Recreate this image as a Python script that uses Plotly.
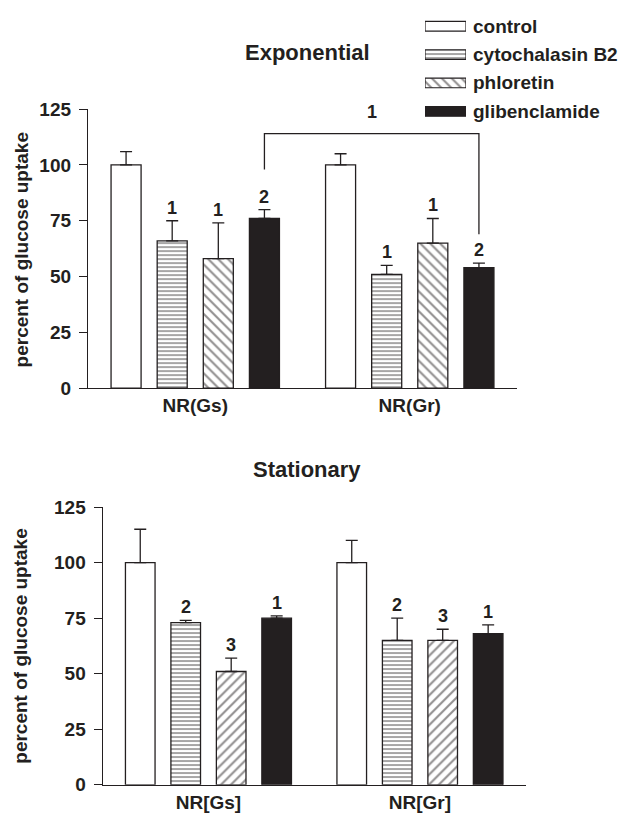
import plotly.graph_objects as go

# ---------------- data ----------------
series = ["control", "cytochalasin B2", "phloretin", "glibenclamide"]

exp_categories = ["NR(Gs)", "NR(Gr)"]
exp_control = [100, 100]
exp_cytochalasin = [66, 51]
exp_phloretin = [58, 65]
exp_glibenclamide = [76, 54]
exp_control_err = [6, 5]
exp_cytochalasin_err = [9, 4]
exp_phloretin_err = [16, 11]
exp_glibenclamide_err = [4, 2]
exp_control_sig = ["", ""]
exp_cytochalasin_sig = ["1", "1"]
exp_phloretin_sig = ["1", "1"]
exp_glibenclamide_sig = ["2", "2"]

stat_categories = ["NR[Gs]", "NR[Gr]"]
stat_control = [100, 100]
stat_cytochalasin = [73, 65]
stat_phloretin = [51, 65]
stat_glibenclamide = [75, 68]
stat_control_err = [15, 10]
stat_cytochalasin_err = [1, 10]
stat_phloretin_err = [6, 5]
stat_glibenclamide_err = [1, 4]
stat_control_sig = ["", ""]
stat_cytochalasin_sig = ["2", "2"]
stat_phloretin_sig = ["3", "3"]
stat_glibenclamide_sig = ["1", "1"]

y_ticks = [0, 25, 50, 75, 100, 125]

# bracket between glibenclamide bars (exponential panel)
bracket_label = "1"
bracket_top = 114
bracket_left_bottom = 98
bracket_right_bottom = 69

# ---------------- styling ----------------
W, H = 629, 827
INK = "#231f20"
FONT = "Liberation Sans, Arial, sans-serif"
PITCH = 0.215
BAR_W = 0.14

styles = [
    dict(color="white", pattern=dict(shape="")),
    dict(color="white", pattern=dict(shape="-", size=4, solidity=0.4, fgcolor=INK, bgcolor="white")),
    dict(color="white", pattern=dict(shape="\\", size=7, solidity=0.3, fgcolor=INK, bgcolor="white")),
    dict(color=INK, pattern=dict(shape="")),
]
stat_styles = list(styles)
stat_styles[2] = dict(color="white", pattern=dict(shape="/", size=7, solidity=0.3, fgcolor=INK, bgcolor="white"))


def bold(size):
    return dict(family=FONT, size=size, color=INK, weight="bold")


fig = go.Figure()
annotations = []


def add_panel(cats, means, errs, sigs, stl, xa, ya):
    for i, (m, e, s) in enumerate(zip(means, errs, sigs)):
        xs = [g + (i - 1.5) * PITCH for g in range(len(cats))]
        fig.add_trace(go.Bar(
            x=xs, y=m, width=BAR_W, name=series[i], showlegend=False,
            marker=dict(color=stl[i]["color"], pattern=stl[i]["pattern"],
                        line=dict(color=INK, width=1.3)),
            error_y=dict(type="data", symmetric=False, array=e, arrayminus=[0] * len(e),
                         color=INK, thickness=1.3, width=6),
            xaxis=xa, yaxis=ya,
        ))
        for x, mv, ev, sv in zip(xs, m, e, s):
            if sv:
                annotations.append(dict(x=x, y=mv + ev, xref=xa, yref=ya, text=sv,
                                        showarrow=False, yanchor="bottom", yshift=1,
                                        font=bold(18)))


add_panel(exp_categories,
          [exp_control, exp_cytochalasin, exp_phloretin, exp_glibenclamide],
          [exp_control_err, exp_cytochalasin_err, exp_phloretin_err, exp_glibenclamide_err],
          [exp_control_sig, exp_cytochalasin_sig, exp_phloretin_sig, exp_glibenclamide_sig],
          styles, "x", "y")
add_panel(stat_categories,
          [stat_control, stat_cytochalasin, stat_phloretin, stat_glibenclamide],
          [stat_control_err, stat_cytochalasin_err, stat_phloretin_err, stat_glibenclamide_err],
          [stat_control_sig, stat_cytochalasin_sig, stat_phloretin_sig, stat_glibenclamide_sig],
          stat_styles, "x2", "y2")

# legend drawn as small horizontal bars
for i, name in enumerate(series):
    fig.add_trace(go.Bar(
        x=[1], y=[i], orientation="h", width=0.34, showlegend=False, name=name,
        marker=dict(color=styles[i]["color"], pattern=styles[i]["pattern"],
                    line=dict(color=INK, width=1.2)),
        xaxis="x3", yaxis="y3", hoverinfo="skip",
    ))
    annotations.append(dict(x=471 / W, y=i, xref="paper", yref="y3", text=name,
                            showarrow=False, xanchor="left", yanchor="middle",
                            font=bold(19)))

# bracket
xl = 0 + 1.5 * PITCH
xr = 1 + 1.5 * PITCH
shapes = [dict(type="path", xref="x", yref="y",
               path=f"M {xl},{bracket_left_bottom} L {xl},{bracket_top} L {xr},{bracket_top} L {xr},{bracket_right_bottom}",
               line=dict(color=INK, width=1.3))]
annotations.append(dict(x=(xl + xr) / 2, y=bracket_top, xref="x", yref="y", text=bracket_label,
                        showarrow=False, yanchor="bottom", yshift=10, font=bold(18)))

# titles and axis titles
annotations += [
    dict(x=307.7 / W, y=1 - 44 / H, xref="paper", yref="paper", text="Exponential",
         showarrow=False, xanchor="center", yanchor="middle", font=bold(22)),
    dict(x=307 / W, y=1 - 471 / H, xref="paper", yref="paper", text="Stationary",
         showarrow=False, xanchor="center", yanchor="middle", font=bold(22)),
    dict(x=21 / W, y=1 - 246.7 / H, xref="paper", yref="paper", text="percent of glucose uptake",
         showarrow=False, textangle=-90, xanchor="center", yanchor="middle", font=bold(19)),
    dict(x=21 / W, y=1 - 653.3 / H, xref="paper", yref="paper", text="percent of glucose uptake",
         showarrow=False, textangle=-90, xanchor="center", yanchor="middle", font=bold(19)),
]

xaxis_common = dict(range=[-0.5, 1.5], tickvals=[0, 1], showline=True, linecolor=INK, linewidth=1.3,
                    showgrid=False, zeroline=False, ticks="", tickfont=bold(19), ticklabelstandoff=0,
                    fixedrange=True)
yaxis_common = dict(range=[0, 125], tickvals=y_ticks, showline=True, linecolor=INK, linewidth=1.3,
                    showgrid=False, zeroline=False, ticks="outside", ticklen=8, tickwidth=1.3,
                    tickcolor=INK, tickfont=bold(19), ticklabelstandoff=4, fixedrange=True)

fig.update_layout(
    width=W, height=H,
    margin=dict(l=0, r=0, t=0, b=0),
    paper_bgcolor="white", plot_bgcolor="white",
    barmode="overlay",
    showlegend=False,
    xaxis=dict(**xaxis_common, domain=[88 / W, 517 / W], ticktext=exp_categories, anchor="y"),
    yaxis=dict(**yaxis_common, domain=[1 - 388 / H, 1 - 101.7 / H], anchor="x"),
    xaxis2=dict(**xaxis_common, domain=[102.7 / W, 525.7 / W], ticktext=stat_categories, anchor="y2"),
    yaxis2=dict(**yaxis_common, domain=[1 - 795 / H, 1 - 510 / H], anchor="x2"),
    xaxis3=dict(domain=[425 / W, 466 / W], range=[0, 1], visible=False, fixedrange=True, anchor="y3"),
    yaxis3=dict(domain=[1 - 118.5 / H, 1 - 2.1 / H], range=[3.5, -0.5], visible=False,
                fixedrange=True, anchor="x3"),
    annotations=annotations,
    shapes=shapes,
)

post = ("var d=document.getElementById('{plot_id}');"
        "d.style.position='fixed';d.style.top='0px';d.style.left='0px';"
        "document.body.style.margin='0';document.documentElement.style.overflow='hidden';"
        "document.body.style.overflow='hidden';")

fig.write_html("out.html", config={"displayModeBar": False}, post_script=post)
